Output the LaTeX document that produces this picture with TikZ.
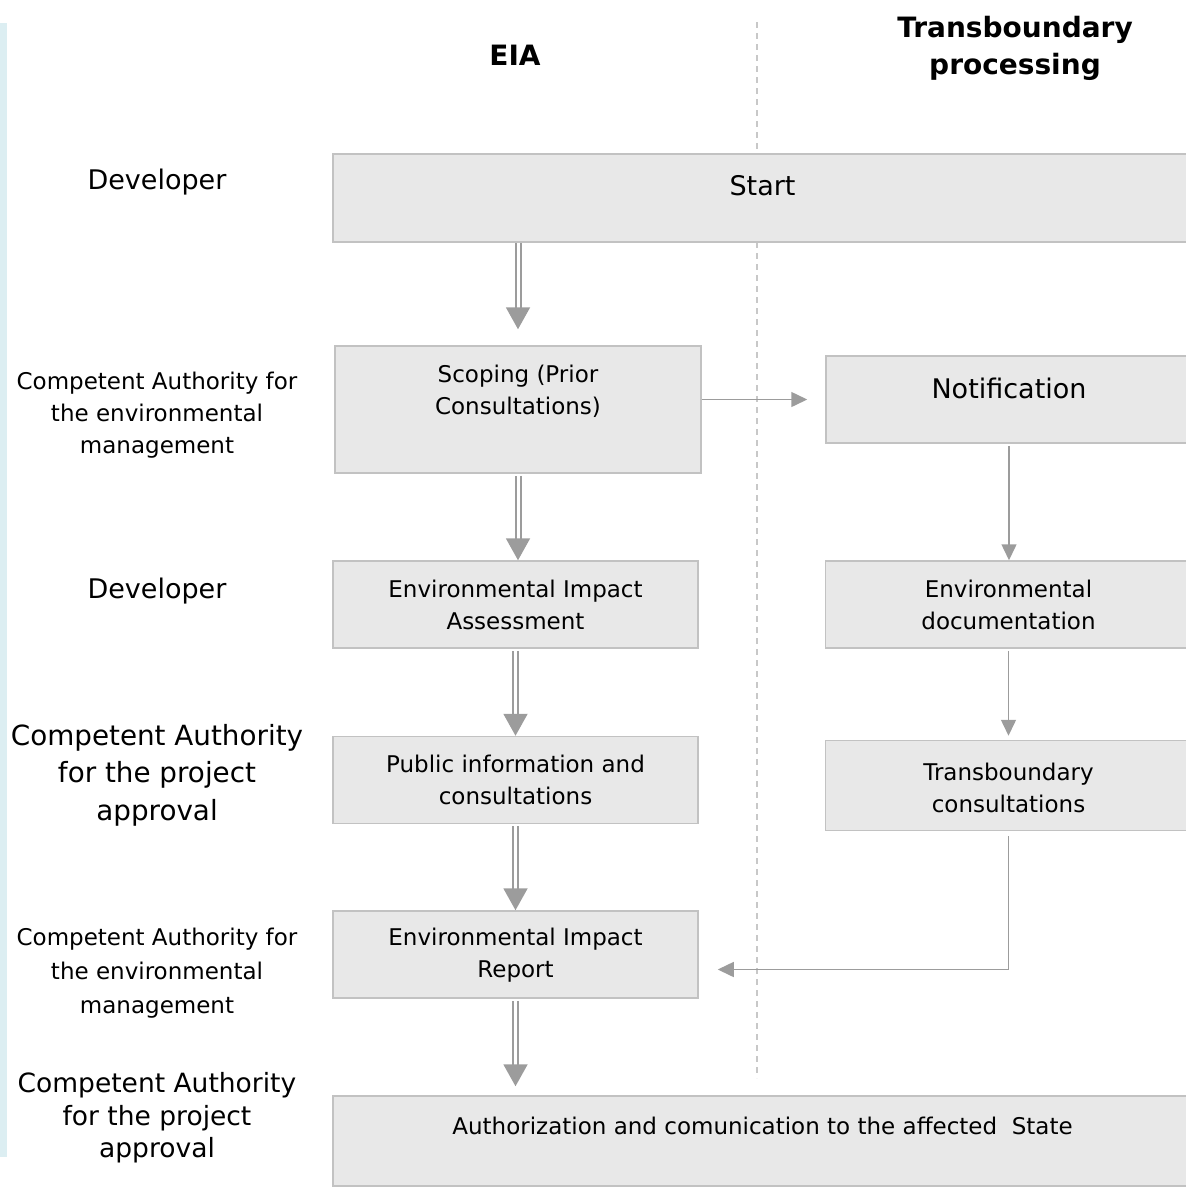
\documentclass[tikz,border=0pt]{standalone}
\usepackage{fontspec}
\setmainfont{DejaVu Sans}
\usetikzlibrary{positioning, arrows.meta}

\definecolor{boxfill}{HTML}{E8E8E8}
\definecolor{boxline}{HTML}{C2C2C2}
\definecolor{arrowgray}{HTML}{9C9C9C}
\definecolor{sepgray}{HTML}{C8C8C8}
\definecolor{stripblue}{HTML}{DCEEF2}

\begin{document}
\begin{tikzpicture}[x=1pt, y=-1pt,
  box/.style = {draw=boxline, fill=boxfill, line width=1.5pt, inner sep=0pt},
  txt/.style = {align=center, font=\fontsize{23}{32}\selectfont},
  bigtxt/.style = {align=center, font=\fontsize{27}{37}\selectfont},
  head/.style = {align=center, font=\fontsize{28}{37}\selectfont\bfseries},
  dbl/.style = {draw=arrowgray, line width=2pt, double=white, double distance=3pt,
    -{Triangle[width=24pt, length=22pt]}},
  sgl/.style = {draw=arrowgray, line width=1.5pt, -{Triangle[width=15pt, length=16pt]}}]
\useasboundingbox (0,0) rectangle (1186,1192);
\fill[stripblue] (0,23) rectangle (7,1157);
\draw[sepgray, line width=1.5pt, dash pattern=on 6pt off 5pt] (757,22) -- (757,1078); % column separator

% column heads
\node[head] (hEIA) at (515,55) {EIA};
\node[head] (hTB) at (1015,48) {Transboundary\\processing};

% row labels
\node[bigtxt] (L1) at (157,182) {Developer};
\node[txt] (L2) at (157,415) {Competent Authority for\\the environmental\\management};
\node[bigtxt] (L3) at (157,591) {Developer};
\node[align=center, font=\fontsize{27.8}{37.5}\selectfont] (L4) at (157,775) {Competent Authority\\for the project\\approval};
\node[txt, font=\fontsize{23}{34}\selectfont] (L5) at (157,973) {Competent Authority for\\the environmental\\management};
\node[align=center, font=\fontsize{26.5}{32.5}\selectfont] (L6) at (157,1118) {Competent Authority\\for the project\\approval};

% boxes
\node[box, minimum width=859, minimum height=88] (start) at (762.5,198) {};
\node[box, minimum width=366, minimum height=127] (scop) at (518,409.5) {};
\node[box, minimum width=366, minimum height=87] (notif) at (1009,399.5) {};
\node[box, minimum width=365, minimum height=87] (eia) at (515.5,604.5) {};
\node[box, minimum width=366, minimum height=87] (envdoc) [right = 126pt of eia] {};
\node[box, minimum width=365, minimum height=87] (pub) [below = 87pt of eia] {};
\node[box, minimum width=366, minimum height=90] (trcons) [below = 91pt of envdoc] {};
\node[box, minimum width=365, minimum height=87] (eir) [below = 86pt of pub] {};
\node[box, minimum width=859, minimum height=90] (final) at (762.5,1141) {};

% box texts
\node[bigtxt] (startT) at ([yshift=12pt]start) {Start};
\node[txt] (scopT) at ([yshift=18pt]scop) {Scoping (Prior\\Consultations)};
\node[bigtxt] (notifT) at ([yshift=11pt]notif) {Notification};
\node[txt] (eiaT) at (eia) {Environmental Impact\\Assessment};
\node[txt] (envdocT) at (envdoc) {Environmental\\documentation};
\node[txt] (pubT) at (pub) {Public information and\\consultations};
\node[txt] (trconsT) at ([yshift=-2pt]trcons) {Transboundary\\consultations};
\node[txt] (eirT) at ([yshift=-1pt]eir) {Environmental Impact\\Report};
\node[txt] (finalT) at ([yshift=15pt]final) {Authorization and comunication to the affected\ \ State};

% EIA flow
\draw[dbl] (start.south -| scop) -- ([yshift=16pt]scop.north);
\draw[dbl] ([yshift=-2pt]scop.south) -- (eia.north -| scop);
\draw[dbl] ([yshift=-2pt]eia.south) -- (pub.north);
\draw[dbl] ([yshift=-2pt]pub.south) -- (eir.north);
\draw[dbl] ([yshift=-2pt]eir.south) -- ([yshift=9pt]final.north -| eir);

% transboundary flow
\draw[sgl] (notif.west -| scop.east) -- ([xshift=-18pt]notif.west);
\draw[sgl] ([yshift=-2pt]notif.south) -- (notif.south |- envdoc.north);
\draw[sgl] ([yshift=-2pt]envdoc.south) -- ([yshift=4pt]trcons.north);
\draw[sgl] ([yshift=-5pt]trcons.south) |- ([xshift=19pt, yshift=-15pt]eir.east);
\end{tikzpicture}
\end{document}
